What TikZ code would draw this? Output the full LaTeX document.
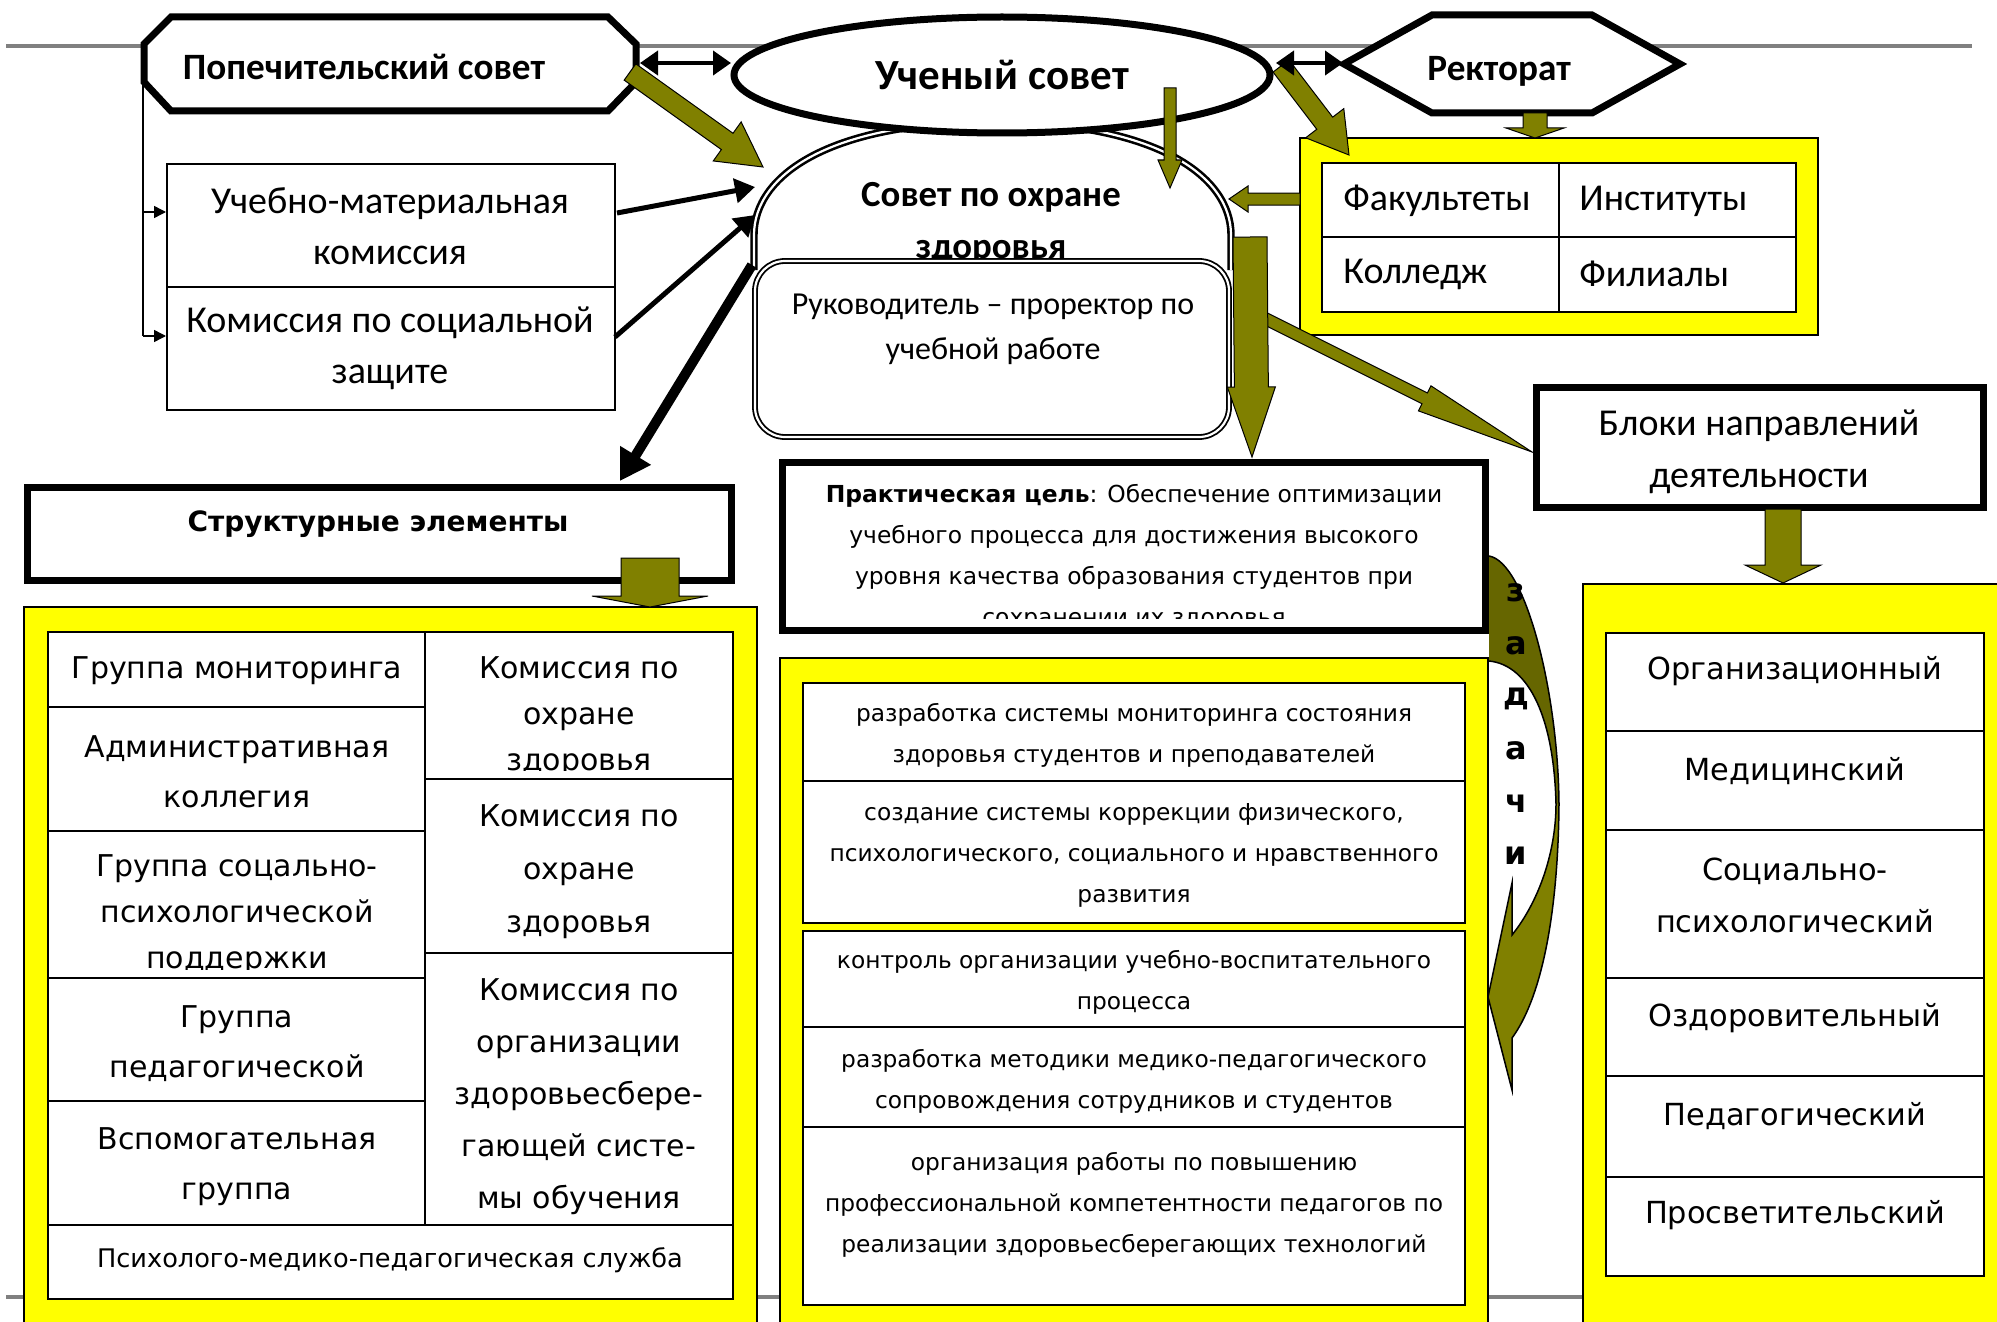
\documentclass[tikz,border=0pt]{standalone}
\usepackage{fontspec}
\setmainfont{Carlito}
\newfontfamily\dvs{DejaVu Sans}
\usetikzlibrary{calc,arrows.meta,shapes.geometric}
\definecolor{olv}{HTML}{808000}
\definecolor{olvd}{HTML}{666600}
\definecolor{ylw}{HTML}{FFFF00}
\definecolor{gry}{HTML}{808080}
\newcommand\fs[2]{\fontsize{#1}{#2}\selectfont}
\newcommand\oarrow[5]{%
  \coordinate (oaC) at ($(#2)!#5!(#1)$);
  \draw[olivearrow] ($(#1)!#3!90:(#2)$) -- ($(oaC)!#3!90:(#2)$) -- ($(oaC)!#4!90:(#2)$) -- (#2) -- ($(oaC)!#4!-90:(#2)$) -- ($(oaC)!#3!-90:(#2)$) -- ($(#1)!#3!-90:(#2)$) -- cycle;}
\begin{document}
\begin{tikzpicture}[x=0.5pt,y=-0.5pt,line join=miter,
  thickb/.style={draw=black,line width=3.5pt,fill=white},
  ybox/.style={fill=ylw,draw=black,line width=0.75pt},
  cell/.style={draw=black,line width=1pt,fill=white},
  olivearrow/.style={fill=olv,draw=black,line width=0.5pt},
  txt/.style={inner sep=0pt,align=center},
  blk/.style={line width=2.5pt,-{Triangle[length=10pt,width=12pt]}},
  dbl/.style={line width=2pt,{Triangle[length=9pt,width=12pt]}-{Triangle[length=9pt,width=12pt]}},
  thin/.style={line width=0.75pt,-{Triangle[length=6pt,width=6pt]}},
  dline/.style={draw=black,double=white,double distance=1.1pt,line width=1.3pt},
  ctxt/.style={txt,font=\fs{19}{25.5}},
  ltab/.style={txt,font=\dvs\fs{15}{25}},
  rtab/.style={txt,font=\dvs\fs{15.2}{26}},
  mtab/.style={txt,font=\dvs\fs{11.65}{20.5}},
]
\clip (0,0) rectangle (1997,1322);
\fill[white] (0,0) rectangle (1997,1322);
% gray rules
\draw[gry,line width=2pt] (6,46) -- (1972,46);
\draw[gry,line width=2pt] (6,1297) -- (1972,1297);

% dome: Совет по охране здоровья
\fill[white] (754,270) -- (754,235) .. controls (754,175) and (830,122) .. (992,122) .. controls (1154,122) and (1231,175) .. (1231,235) -- (1231,270) -- cycle;
\draw[dline] (754,270) -- (754,235) .. controls (754,175) and (830,122) .. (992,122) .. controls (1154,122) and (1231,175) .. (1231,235) -- (1231,270);
\node[txt,font=\bfseries\fs{18.4}{26}] (sovet) at (991,223) {Совет по охране\\здоровья};

% curved arrow "задачи"
\path[fill=olv] (1489,556) .. controls (1525,562) and (1558,690) .. (1559,804) .. controls (1558,920) and (1540,1000) .. (1512,1038) -- (1512,1090) -- (1488,997) -- (1512,883) -- (1512,935) .. controls (1540,900) and (1556,850) .. (1556,804) .. controls (1554,720) and (1530,665) .. (1489,661) -- cycle;
\begin{scope}
\clip (1400,500) rectangle (1600,804);
\path[fill=olvd] (1489,556) .. controls (1525,562) and (1558,690) .. (1559,804) -- (1556,804) .. controls (1554,720) and (1530,665) .. (1489,661) -- cycle;
\end{scope}
\draw[line width=0.75pt] (1489,556) .. controls (1525,562) and (1558,690) .. (1559,804) .. controls (1558,920) and (1540,1000) .. (1512,1038) -- (1512,1090) -- (1488,997) -- (1512,883) -- (1512,935) .. controls (1540,900) and (1556,850) .. (1556,804) .. controls (1554,720) and (1530,665) .. (1489,661);

% Ученый совет
\node[ellipse,draw=black,line width=3.5pt,fill=white,minimum width=268pt,minimum height=58pt,inner sep=0pt] (us) at (1002,75) {};
\node[txt,font=\bfseries\fs{21.5}{26}] (ustxt) at (1002,75) {Ученый совет};

% Попечительский совет
\draw[thickb] (171,17) -- (608,17) -- (636,44) -- (636,82) -- (608,111) -- (171,111) -- (144,82) -- (144,44) -- cycle;
\node[txt,font=\bfseries\fs{18.6}{22}] (pop) at (364,67) {Попечительский совет};
% Ректорат
\draw[thickb] (1344,64) -- (1432,15) -- (1592,15) -- (1680,64) -- (1592,113) -- (1432,113) -- cycle;
\node[txt,font=\bfseries\fs{18.6}{22}] (rek) at (1499,71) {Ректорат};

% left commissions
\node[cell,minimum width=224pt,minimum height=61.5pt,inner sep=0pt] (umk) at (391,225) {};
\node[cell,minimum width=224pt,minimum height=61.5pt,inner sep=0pt] (ksz) at (391,348.5) {};
\node[ctxt] (umkt) at (390,226) {Учебно-материальная\\комиссия};
\node[ctxt] (kszt) at (390,348) {Комиссия по социальной\\защите};
\coordinate (c0) at (143,82); \coordinate (c1) at (143,212); \coordinate (c2) at (143,336);
\draw[line width=0.75pt] (c0) -- (c2);
\draw[thin] (c1) -- (umk.west |- c1);
\draw[thin] (c2) -- (ksz.west |- c2);

% black arrows into dome
\coordinate (b1s) at (617,213); \coordinate (b1e) at (755,187);
\coordinate (b2s) at (615,337); \coordinate (b2e) at (755,215);
\draw[blk] (b1s) -- (b1e);
\draw[blk] (b2s) -- (b2e);

% Руководитель
\draw[dline,line width=0.9pt,fill=white,rounded corners=15pt] (755,261) rectangle (1229,437);
\node[txt,font=\fs{16}{22.5}] (ruk) at (993,329) {Руководитель – проректор по\\учебной работе};
\coordinate (b3s) at (752,265); \coordinate (b3e) at (620,481);
\draw[line width=5pt,-{Triangle[length=15pt,width=17pt]}] (b3s) -- (b3e);

% top right yellow box
\draw[ybox] (1300,138) rectangle (1818,335);
\draw[cell] (1322,163) rectangle (1796,312);
\draw[line width=1pt] (1559,163) -- (1559,312) (1322,237) -- (1796,237);
\node[txt,anchor=west,font=\fs{19}{22}] (fak) at (1343,201) {Факультеты};
\node[txt,anchor=west,font=\fs{19}{22}] (ins) at (1579,201) {Институты};
\node[txt,anchor=west,font=\fs{19}{22}] (kol) at (1343,274) {Колледж};
\node[txt,anchor=west,font=\fs{19}{22}] (fil) at (1579,274) {Филиалы};

% Структурные элементы
\draw[thickb] (27,487) rectangle (731,580);
\node[txt,font=\dvs\bfseries\fs{14}{18}] (str) at (378,524) {Структурные элементы};
% Практическая цель
\draw[thickb] (782,462) rectangle (1485,630);
\begin{scope}
\clip (786,466) rectangle (1481,618);
\node[txt,font=\dvs\fs{11.7}{20.5}] (goal) at (1134,557) {\textbf{Практическая цель}: Обеспечение оптимизации\\учебного процесса для достижения высокого\\уровня качества образования студентов при\\сохранении их здоровья};
\end{scope}
% Блоки
\draw[thickb] (1536,387) rectangle (1983,507);
\node[txt,font=\fs{19}{26}] (blok) at (1759,452) {Блоки направлений\\деятельности};

% left yellow box and table
\draw[ybox] (24,607) rectangle (757,1340);
\draw[cell] (48,632) rectangle (733,1299);
\draw[line width=1pt] (48,1225) -- (733,1225) (425,632) -- (425,1225);
\draw[line width=1pt] (48,707) -- (425,707) (48,831) -- (425,831) (48,978) -- (425,978) (48,1101) -- (425,1101);
\draw[line width=1pt] (425,779) -- (733,779) (425,953) -- (733,953);
\node[ltab] (g1) at (237,671) {Группа мониторинга};
\node[ltab] (g2) at (237,772) {Административная\\коллегия};
\begin{scope}
\clip (50,833) rectangle (423,969);
\node[txt,font=\dvs\fs{15}{23}] (g3) at (237,915) {Группа соцально-\\психологической\\поддержки};
\end{scope}
\node[ltab] (g4) at (237,1044) {Группа\\педагогической};
\node[ltab] (g5) at (237,1167) {Вспомогательная\\группа};
\begin{scope}
\clip (427,634) rectangle (731,770);
\node[txt,font=\dvs\fs{15}{23}] (k1) at (579,717) {Комиссия по\\охране\\здоровья};
\end{scope}
\node[txt,font=\dvs\fs{15}{26.5}] (k2) at (579,872) {Комиссия по\\охране\\здоровья};
\node[txt,font=\dvs\fs{15}{26}] (k3) at (579,1097) {Комиссия по\\организации\\здоровьесбере-\\гающей систе-\\мы обучения};
\node[txt,font=\dvs\fs{12.8}{16}] (pmp) at (390,1260) {Психолого-медико-педагогическая служба};

% middle yellow box and tables
\draw[ybox] (780,658) rectangle (1488,1340);
\draw[cell] (803,683) rectangle (1465,923);
\draw[line width=1pt] (803,781) -- (1465,781);
\draw[cell] (803,931) rectangle (1465,1305);
\draw[line width=1pt] (803,1027) -- (1465,1027) (803,1127) -- (1465,1127);
\node[mtab] (t1) at (1134,735) {разработка системы мониторинга состояния\\здоровья студентов и преподавателей};
\node[mtab] (t2) at (1134,855) {создание системы коррекции физического,\\психологического, социального и нравственного\\развития};
\node[mtab] (t3) at (1134,982) {контроль организации учебно-воспитательного\\процесса};
\node[mtab] (t4) at (1134,1081) {разработка методики медико-педагогического\\сопровождения сотрудников и студентов};
\node[mtab] (t5) at (1134,1205) {организация работы по повышению\\профессиональной компетентности педагогов по\\реализации здоровьесберегающих технологий};

% right yellow box and table
\draw[ybox] (1583,584) rectangle (2010,1340);
\draw[cell] (1606,633) rectangle (1984,1276);
\draw[line width=1pt] (1606,731) -- (1984,731) (1606,830) -- (1984,830) (1606,978) -- (1984,978) (1606,1076) -- (1984,1076) (1606,1177) -- (1984,1177);
\node[rtab] (r1) at (1795,671) {Организационный};
\node[rtab] (r2) at (1795,771) {Медицинский};
\node[rtab] (r3) at (1795,895) {Социально-\\психологический};
\node[rtab] (r4) at (1795,1018) {Оздоровительный};
\node[rtab] (r5) at (1795,1116) {Педагогический};
\node[rtab] (r6) at (1795,1215) {Просветительский};

% olive block arrows
\coordinate (oa1s) at (630,72); \coordinate (oa1e) at (763,167);
\oarrow{oa1s}{oa1e}{5pt}{12pt}{22pt}
\coordinate (oa2s) at (1281,66); \coordinate (oa2e) at (1349,155);
\oarrow{oa2s}{oa2e}{5pt}{12pt}{20pt}
\coordinate (oa3s) at (1535,113); \coordinate (oa3e) at (1535,138);
\oarrow{oa3s}{oa3e}{6pt}{14.5pt}{5pt}
\coordinate (oa4s) at (1300,199); \coordinate (oa4e) at (1229,199);
\oarrow{oa4s}{oa4e}{3pt}{6.5pt}{9.5pt}
\coordinate (oa5s) at (1170,88); \coordinate (oa5e) at (1170,188);
\oarrow{oa5s}{oa5e}{3pt}{6pt}{14pt}
\coordinate (oa7s) at (1252,312); \coordinate (oa7e) at (1532,452);
\oarrow{oa7s}{oa7e}{3pt}{7pt}{60pt}
\coordinate (oa6s) at (1250,237); \coordinate (oa6e) at (1252,457);
\oarrow{oa6s}{oa6e}{8.5pt}{12pt}{35pt}
\coordinate (oa8s) at (650,558); \coordinate (oa8e) at (650,607);
\oarrow{oa8s}{oa8e}{14.5pt}{29pt}{5.5pt}
\coordinate (oa9s) at (1783,509); \coordinate (oa9e) at (1783,583);
\oarrow{oa9s}{oa9e}{9pt}{19pt}{9pt}

% double arrows (on top)
\coordinate (da1) at (640,63); \coordinate (da2) at (731,63);
\coordinate (db1) at (1276,63); \coordinate (db2) at (1343,63);
\draw[dbl] (da1) -- (da2);
\draw[dbl] (db1) -- (db2);

% letters "задачи"
\foreach \l/\yy [count=\i] in {з/593,а/646,д/699,а/751,ч/804,и/856}
  \node[txt,font=\dvs\bfseries\fs{16}{18}] (z\i) at (1516,\yy) {\l};
\end{tikzpicture}
\end{document}
